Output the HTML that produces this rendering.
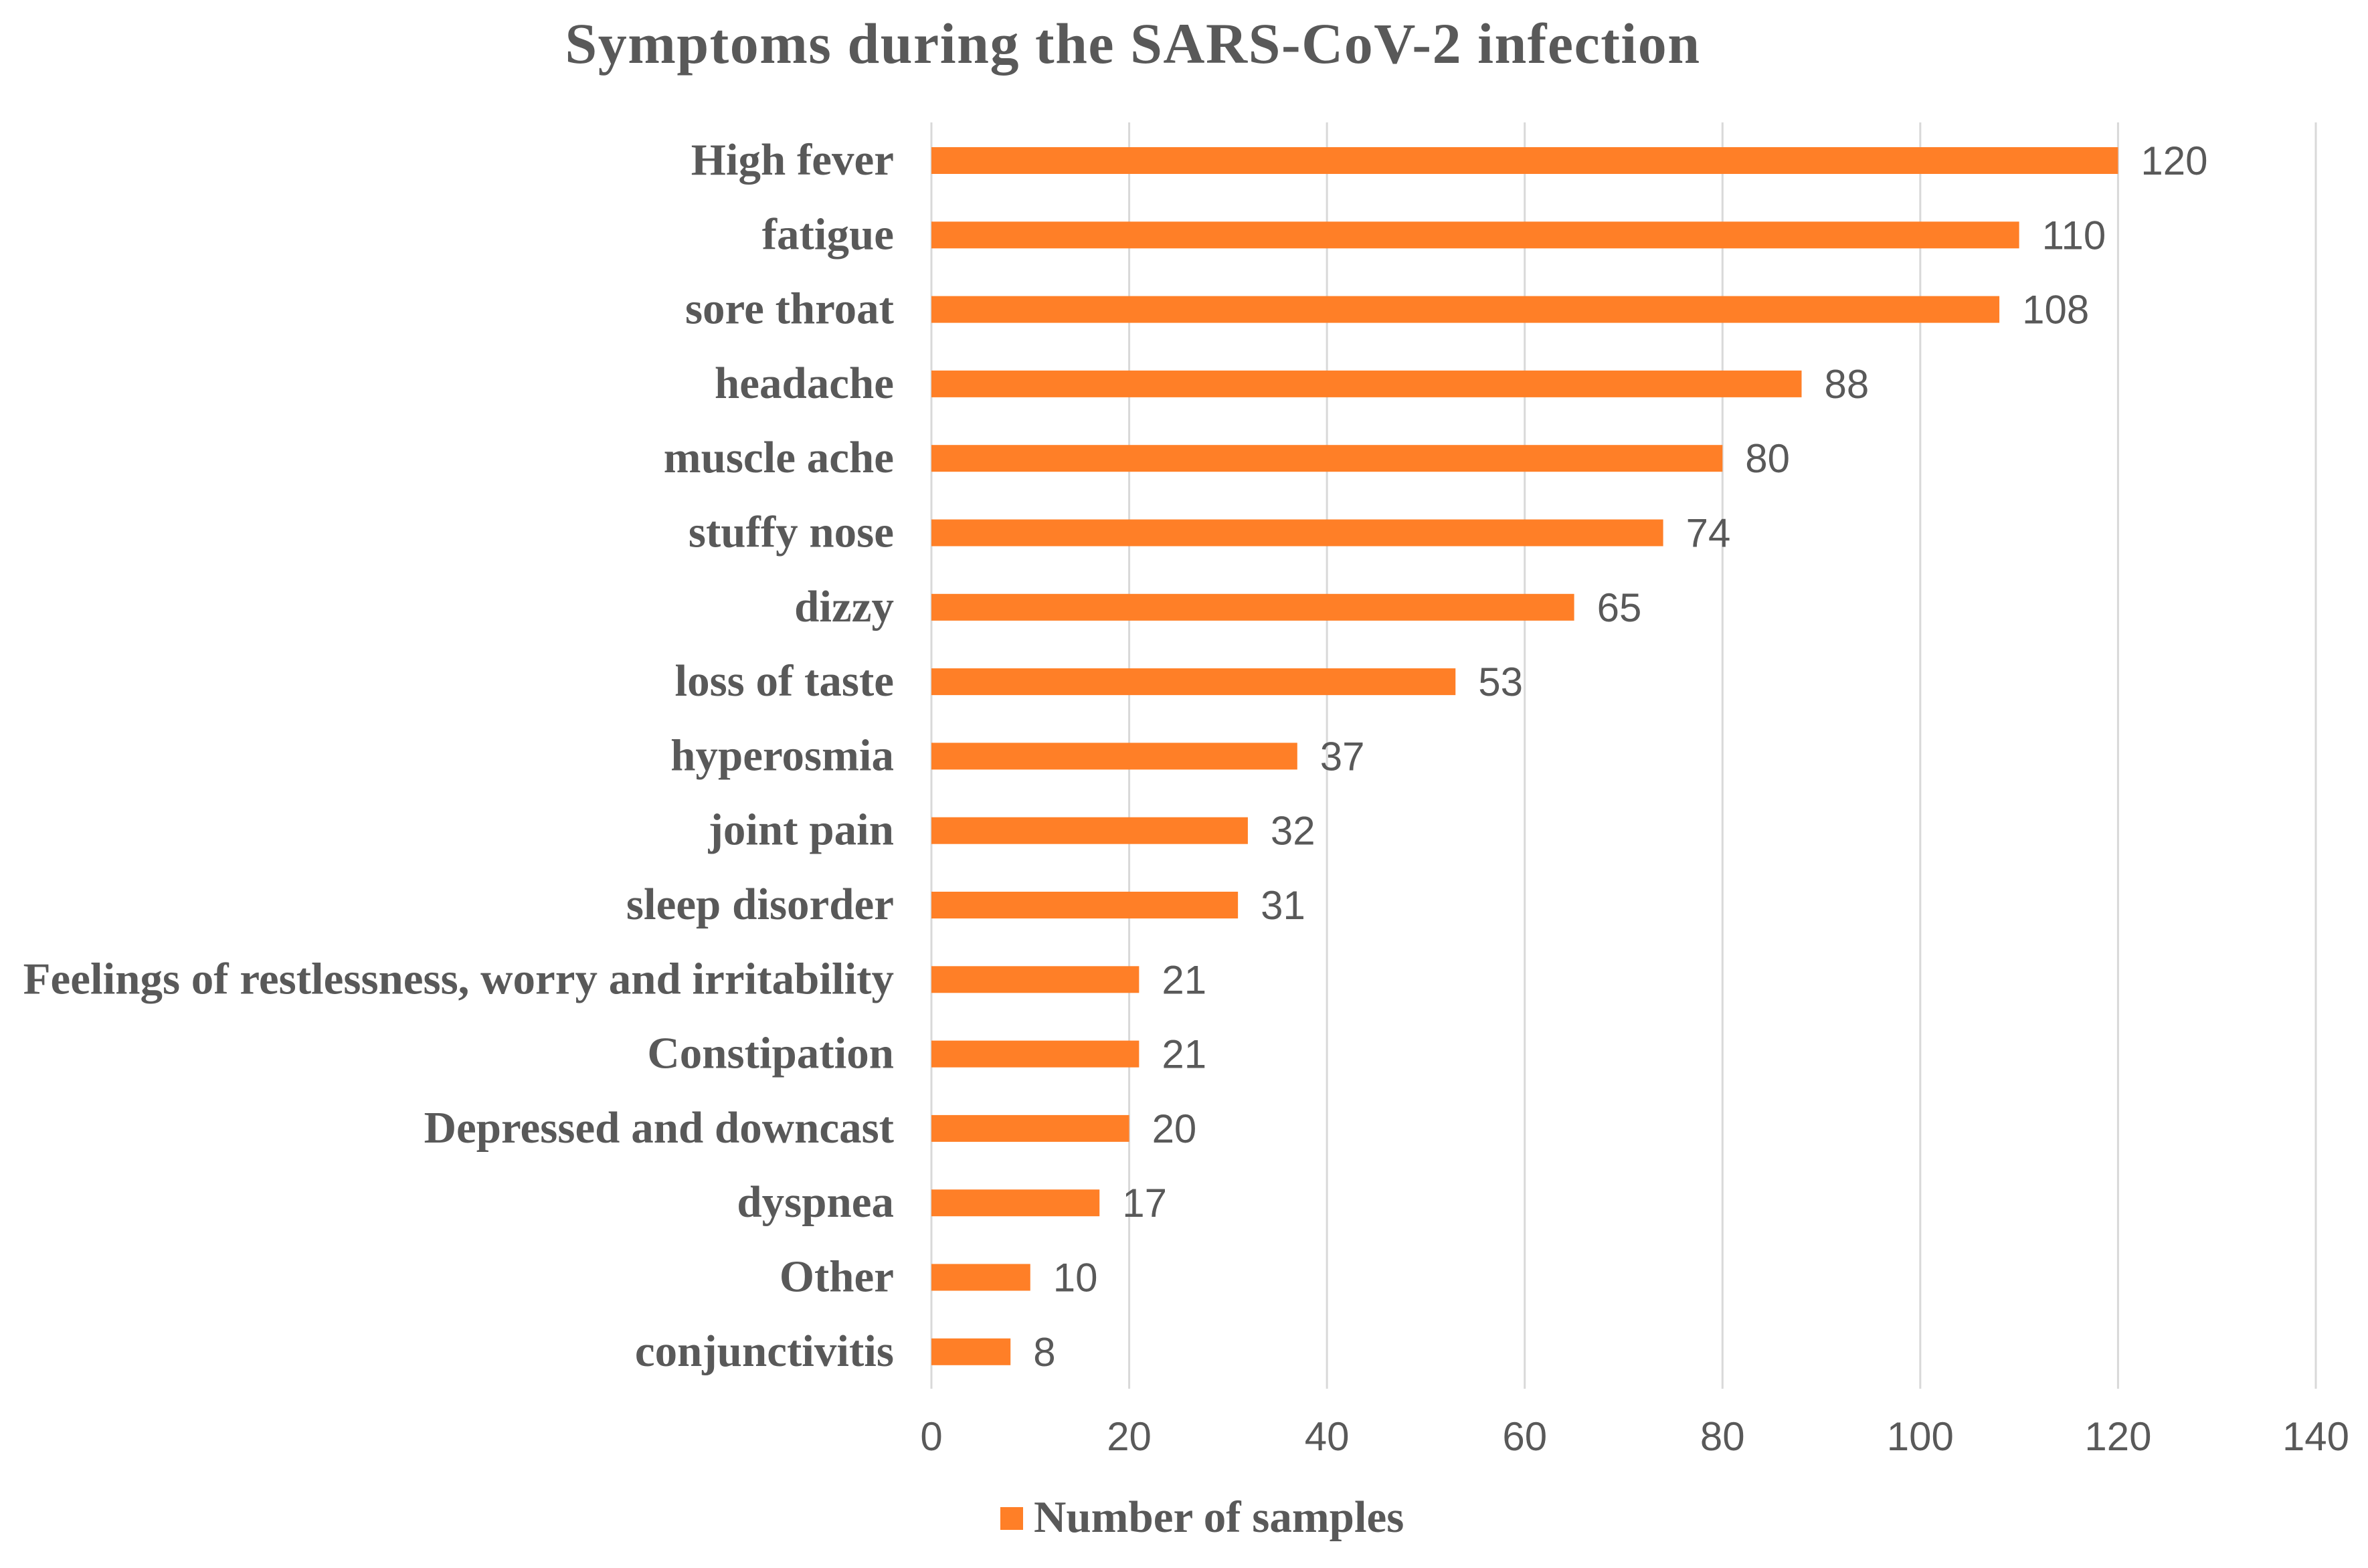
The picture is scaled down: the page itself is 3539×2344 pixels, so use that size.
<!DOCTYPE html>
<html><head><meta charset="utf-8">
<style>
html,body{margin:0;padding:0;background:#fff;}
svg{display:block;}
</style></head>
<body>
<svg id="chart" width="3539" height="2344" viewBox="0 0 3539 2344" xmlns="http://www.w3.org/2000/svg">
<rect width="3539" height="2344" fill="#fff"/>
<text x="1693" y="94" text-anchor="middle" font-family="Liberation Serif, serif" font-weight="bold" font-size="86" letter-spacing="1.5" fill="#595959">Symptoms during the SARS-CoV-2 infection</text>
<g id="grid"></g>
<g id="bars"></g>
<g id="labels"></g>
<g id="ticks"></g>
<g>
<rect x="1495" y="2253" width="34" height="34" fill="#FF7F27"/>
<text x="1545" y="2290" font-family="Liberation Serif, serif" font-weight="bold" font-size="67" fill="#595959">Number of samples</text>
</g>
</svg>
<script>
const categories = ["High fever","fatigue","sore throat","headache","muscle ache","stuffy nose","dizzy","loss of taste","hyperosmia","joint pain","sleep disorder","Feelings of restlessness, worry and irritability","Constipation","Depressed and downcast","dyspnea","Other","conjunctivitis"];
const values = [120,110,108,88,80,74,65,53,37,32,31,21,21,20,17,10,8];
const tickValues = [0,20,40,60,80,100,120,140];

const NS = "http://www.w3.org/2000/svg";
const x0 = 1392, pxPerUnit = (3461 - 1392) / 140;
const firstCenter = 240, pitch = 111.3, barH = 40;
const gridTop = 183, gridBottom = 2076;
function xScale(v){ return x0 + v * pxPerUnit; }
function yScale(i){ return firstCenter + i * pitch; }
function mk(tag, attrs, parent){
  const el = document.createElementNS(NS, tag);
  for (const k in attrs) el.setAttribute(k, attrs[k]);
  document.getElementById(parent).appendChild(el);
  return el;
}
tickValues.forEach(t => {
  const g = mk("line", {x1:xScale(t), x2:xScale(t), y1:gridTop, y2:gridBottom, stroke:"#d9d9d9", "stroke-width":3}, "grid");
  
  
  const tl = mk("text", {x:xScale(t), y:2168, "text-anchor":"middle", "font-family":"Liberation Sans, sans-serif", "font-size":60, fill:"#595959"}, "ticks");
  tl.textContent = t;
  
  
});
categories.forEach((c, i) => {
  const cy = yScale(i);
  const b = mk("rect", {x:xScale(0), y:cy - barH/2, width:xScale(values[i]) - xScale(0), height:barH, fill:"#FF7F27"}, "bars");
  
  
  const v = mk("text", {x:xScale(values[i]) + 34, y:cy + 21, "font-family":"Liberation Sans, sans-serif", "font-size":60, fill:"#595959"}, "labels");
  v.textContent = values[i];
  
  
  const l = mk("text", {x:1336, y:cy + 21, "text-anchor":"end", "font-family":"Liberation Serif, serif", "font-weight":"bold", "font-size":67, fill:"#595959"}, "labels");
  l.textContent = c;
  
  
});
</script>
</body></html>
